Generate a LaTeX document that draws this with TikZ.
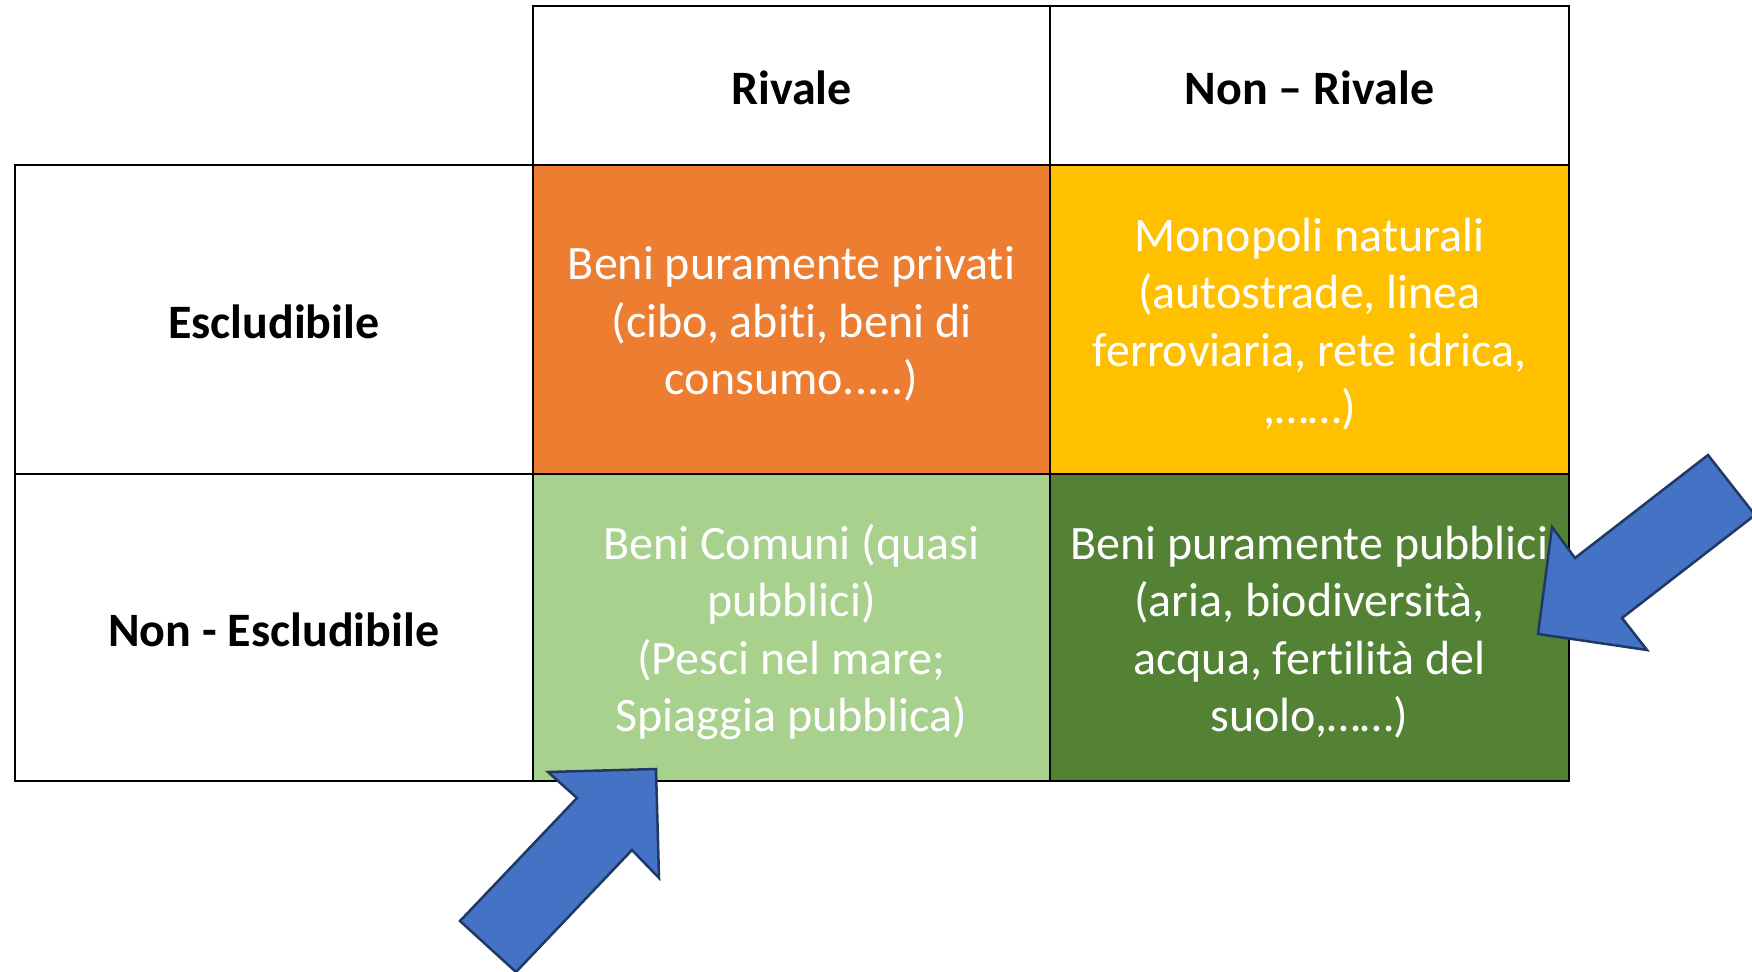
\documentclass[tikz,border=0pt]{standalone}
\usepackage{fontspec}
\setmainfont[Ligatures={NoCommon}]{Carlito}
\definecolor{corange}{HTML}{ED7D31}
\definecolor{cyellow}{HTML}{FFC000}
\definecolor{clgreen}{HTML}{A9D18E}
\definecolor{cdgreen}{HTML}{548235}
\definecolor{cblue}{HTML}{4472C4}
\definecolor{cnavy}{HTML}{203864}
\tikzset{
  cell/.style={draw=black, line width=2pt, rectangle, inner sep=0pt},
  celltext/.style={align=center, inner sep=0pt, font=\fontsize{48}{57.5}\selectfont},
  whitetext/.style={celltext, text=white},
  headtext/.style={celltext, text=black, font=\fontsize{48}{57.5}\selectfont\bfseries},
  blockarrow/.style={fill=cblue, draw=cnavy, line width=2.5pt, line join=miter}
}
\begin{document}
\begin{tikzpicture}[x=1pt,y=-1pt]
\useasboundingbox (0,0) rectangle (1752,971);
% header row
\node[cell, fill=white, minimum width=517, minimum height=159.4] (hr) at (791.5,85.3) {};
\node[cell, fill=white, minimum width=519, minimum height=159.4] (hnr) at (1309.5,85.3) {};
% row labels
\node[cell, fill=white, minimum width=518.5, minimum height=309] (re) at (273.75,319.5) {};
\node[cell, fill=white, minimum width=518.5, minimum height=307] (rne) at (273.75,627.5) {};
% colored cells
\node[cell, fill=corange, minimum width=517, minimum height=309] (c11) at (791.5,319.5) {};
\node[cell, fill=cyellow, minimum width=519, minimum height=309] (c12) at (1309.5,319.5) {};
\node[cell, fill=clgreen, minimum width=517, minimum height=307] (c21) at (791.5,627.5) {};
\node[cell, fill=cdgreen, minimum width=519, minimum height=307] (c22) at (1309.5,627.5) {};
% texts
\node[headtext] (thr) at ([yshift=-2.5pt]hr.center) {Rivale};
\node[headtext] (thnr) at ([yshift=-2.5pt]hnr.center) {Non -- Rivale};
\node[headtext] (tre) at ([yshift=-2pt]re.center) {Escludibile};
\node[headtext] (trne) at ([yshift=-2pt]rne.center) {Non - Escludibile};
\node[whitetext] (t11) at ([yshift=-4.5pt]c11.center)
  {Beni puramente privati\\(cibo, abiti, beni di\\consumo.....)};
\node[whitetext] (t12) at ([yshift=-4.5pt]c12.center)
  {Monopoli naturali\\(autostrade, linea\\ferroviaria, rete idrica,\\,……)};
\node[whitetext] (t21) at ([yshift=-4.5pt]c21.center)
  {Beni Comuni (quasi\\pubblici)\\(Pesci nel mare;\\Spiaggia pubblica)};
\node[whitetext] (t22) at ([yshift=-4.5pt]c22.center)
  {Beni puramente pubblici\\(aria, biodiversità,\\acqua, fertilità del\\suolo,……)};
% block arrows
\coordinate (ra1) at (1538,634);
\coordinate (ra2) at (1552,527);
\coordinate (ra3) at (1575,558);
\coordinate (ra4) at (1708,455);
\coordinate (ra5) at (1755,515);
\coordinate (ra6) at (1622,618);
\coordinate (ra7) at (1647,650);
\draw[blockarrow] (ra1) -- (ra2) -- (ra3) -- (ra4) -- (ra5) -- (ra6) -- (ra7) -- cycle;
\coordinate (ba1) at (656,769);
\coordinate (ba2) at (659,878);
\coordinate (ba3) at (632,850);
\coordinate (ba4) at (516,972);
\coordinate (ba5) at (460,921);
\coordinate (ba6) at (577,798);
\coordinate (ba7) at (548,772);
\draw[blockarrow] (ba1) -- (ba2) -- (ba3) -- (ba4) -- (ba5) -- (ba6) -- (ba7) -- cycle;
\end{tikzpicture}
\end{document}
